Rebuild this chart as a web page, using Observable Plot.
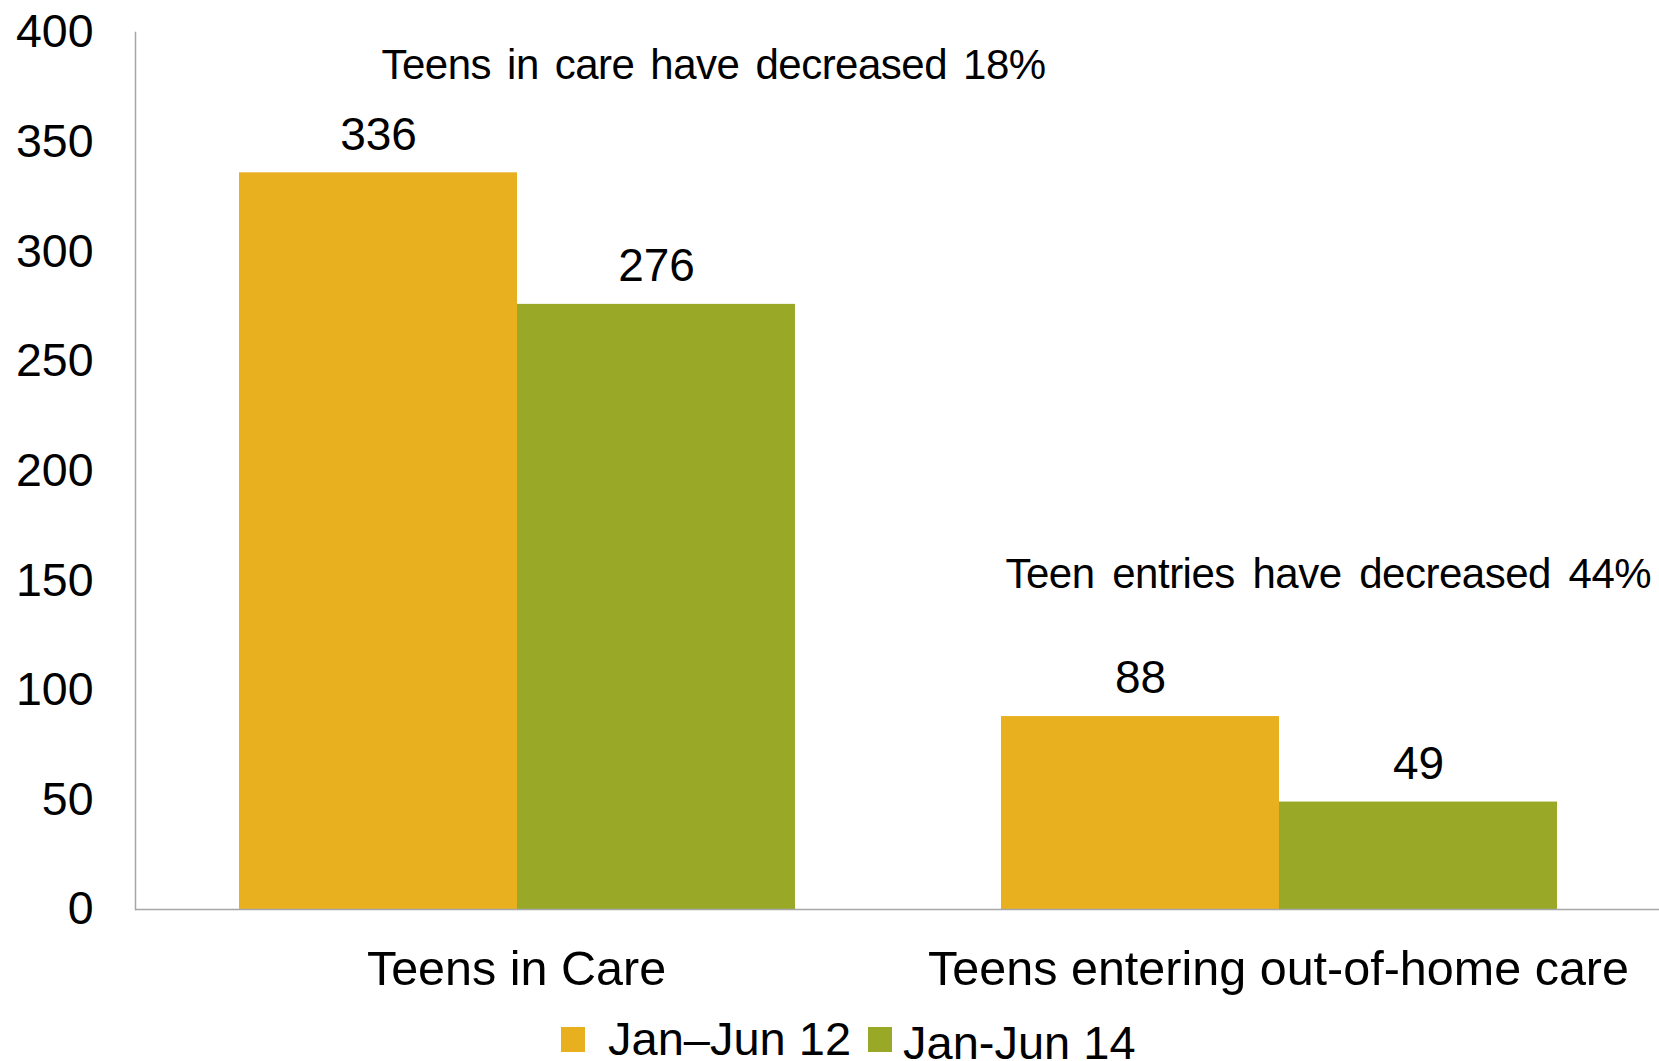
<!DOCTYPE html>
<html>
<head>
<meta charset="utf-8">
<script src="https://cdn.jsdelivr.net/npm/d3@7"></script>
<script src="https://cdn.jsdelivr.net/npm/@observablehq/plot@0.6"></script>
<style>
  html, body { margin: 0; padding: 0; background: #fff; }
  body { width: 1659px; height: 1061px; overflow: hidden; font-family: "Liberation Sans", Arial, sans-serif; }
  #legend { display: flex; align-items: center; height: 58px; margin-left: 561px; font-size: 47px; color: #000; }
  #legend .sw { width: 24px; height: 25px; flex: none; }
  #legend .lb { line-height: 58px; white-space: nowrap; }
</style>
</head>
<body>
<div id="chart"></div>
<div id="legend"></div>
<script>
const categories = ["Teens in Care", "Teens entering out-of-home care"];
const seriesNames = ["Jan–Jun 12", "Jan-Jun 14"];
const jan12 = [336, 88];
const jan14 = [276, 49];
const seriesColors = ["#E8AF1F", "#99A927"];
const yTicks = [0, 50, 100, 150, 200, 250, 300, 350, 400];
const annotationText = ["Teens in care have decreased 18%", "Teen entries have decreased 44%"];
const annotationY = [385, 153];

const rows = [];
categories.forEach((c, i) => {
  rows.push({category: c, series: seriesNames[0], value: jan12[i]});
  rows.push({category: c, series: seriesNames[1], value: jan14[i]});
});
const notes = categories.map((c, i) => ({category: c, text: annotationText[i], y: annotationY[i]}));

const font = "Liberation Sans, Arial, sans-serif";

const plot = Plot.plot({
  width: 1659,
  height: 1010,
  marginLeft: 135,
  marginRight: 0,
  marginTop: 32,
  marginBottom: 101,
  style: {fontFamily: font, color: "#000", background: "#fff"},
  fx: {domain: categories, padding: 0},
  x: {domain: seriesNames, paddingInner: 0, paddingOuter: 0.37, align: 0.505, axis: null},
  y: {domain: [0, 400], axis: null},
  color: {domain: seriesNames, range: seriesColors},
  marks: [
    Plot.barY(rows, {fx: "category", x: "series", y: "value", fill: "series"}),
    Plot.ruleY([0], {stroke: "#a6a6a6", strokeWidth: 1.5}),
    Plot.frame({anchor: "left", stroke: "#a6a6a6", strokeWidth: 1.5, facetAnchor: "left"}),
    Plot.axisY({ticks: yTicks, tickSize: 0, tickPadding: 42, fontSize: 46.5, label: null, tickFormat: d => String(d)}),
    Plot.axisFx({anchor: "bottom", tickSize: 0, tickPadding: 41, fontSize: 48.5, label: null}),
    Plot.text(rows, {fx: "category", x: "series", y: "value", text: d => String(d.value), dy: -38, fontSize: 46, fill: "#000"}),
    Plot.text(notes.slice(0, 1), {fx: "category", y: "y", text: "text", frameAnchor: "left", textAnchor: "start", dx: 246, fontSize: 42, fill: "#000"}),
    Plot.text(notes.slice(1, 2), {fx: "category", y: "y", text: "text", frameAnchor: "left", textAnchor: "start", dx: 108, fontSize: 42, fill: "#000"})
  ]
});
plot.querySelectorAll("text").forEach(t => {
  const k = annotationText.indexOf(t.textContent);
  if (k >= 0) {
    t.style.letterSpacing = "-0.5px";
    t.style.wordSpacing = k === 0 ? "4.8px" : "6.5px";
  }
});
document.getElementById("chart").appendChild(plot);

const legend = document.getElementById("legend");
seriesNames.forEach((name, i) => {
  const sw = document.createElement("span");
  sw.className = "sw";
  sw.style.background = seriesColors[i];
  sw.style.marginRight = i === 0 ? "23px" : "11px";
  const lb = document.createElement("span");
  lb.className = "lb";
  lb.textContent = name;
  lb.style.marginRight = "17px";
  if (i === 1) lb.style.position = "relative", lb.style.top = "4px";
  legend.appendChild(sw);
  legend.appendChild(lb);
});
</script>
</body>
</html>
